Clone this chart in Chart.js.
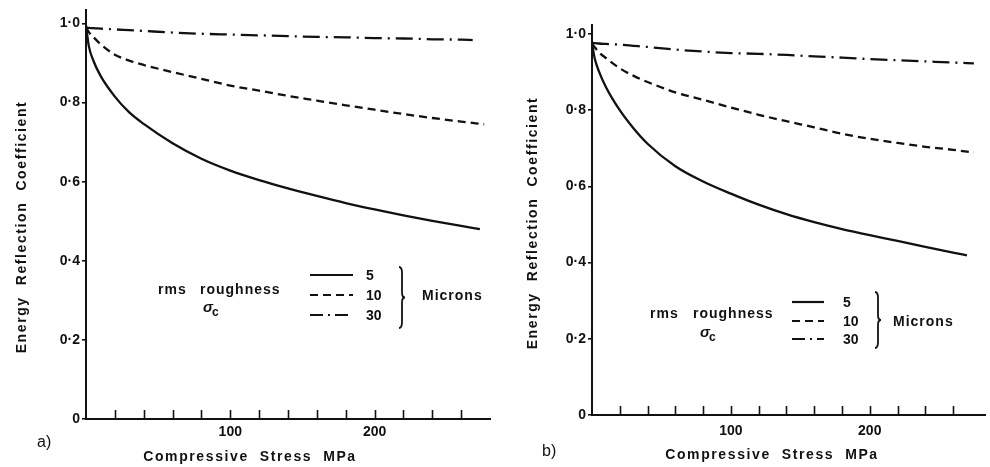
<!DOCTYPE html>
<html>
<head>
<meta charset="utf-8">
<title>Energy reflection coefficient vs compressive stress</title>
<script src="https://cdn.jsdelivr.net/npm/chart.js@4.4.1/dist/chart.umd.min.js"></script>
<style>
  body { margin: 0; background: #fff; }
  canvas { position: absolute; top: 0; }
  #chartA { left: 0; }
  #chartB { left: 495px; }
</style>
</head>
<body>
<canvas id="chartA" width="495" height="467"></canvas>
<canvas id="chartB" width="495" height="467"></canvas>
<script>
// stress (MPa) shared by all curves; every value list carries one extra
// value at the end, for the stress where that curve stops
var stress = [0, 2, 5, 10, 20, 30, 40, 60, 80, 100, 120, 140, 160, 180, 200, 220, 240, 260];

// a)
var endStressA = [273, 276, 268];
var rms5A  = [0.995, 0.942, 0.907, 0.868, 0.815, 0.775, 0.746, 0.697, 0.658, 0.628, 0.604, 0.583, 0.564, 0.546, 0.530, 0.515, 0.501, 0.488, 0.480];
var rms10A = [0.990, 0.978, 0.966, 0.948, 0.921, 0.906, 0.895, 0.877, 0.860, 0.843, 0.830, 0.817, 0.805, 0.793, 0.782, 0.771, 0.761, 0.752, 0.745];
var rms30A = [0.990, 0.989, 0.988, 0.987, 0.985, 0.983, 0.981, 0.977, 0.974, 0.972, 0.970, 0.968, 0.966, 0.965, 0.963, 0.962, 0.960, 0.959, 0.958];

// b)
var endStressB = [270, 275, 275];
var rms5B  = [0.976, 0.935, 0.902, 0.861, 0.800, 0.752, 0.712, 0.653, 0.613, 0.581, 0.552, 0.527, 0.506, 0.488, 0.472, 0.457, 0.441, 0.426, 0.419];
var rms10B = [0.975, 0.965, 0.952, 0.937, 0.910, 0.890, 0.874, 0.847, 0.827, 0.807, 0.788, 0.771, 0.755, 0.738, 0.725, 0.714, 0.704, 0.696, 0.689];
var rms30B = [0.977, 0.976, 0.975, 0.974, 0.972, 0.969, 0.966, 0.959, 0.954, 0.950, 0.948, 0.945, 0.941, 0.938, 0.934, 0.931, 0.928, 0.925, 0.923];

var roughness = ['5', '10', '30'];
var xLabelled = [100, 200];

var ink = '#111';
var fontFamily = '"Liberation Sans", Arial, sans-serif';
var textFont = 'bold 14px ' + fontFamily;
var dashes = [[], [8, 5], [17, 6, 2, 6]];
// shorter dash-dot for the key so both dashes fit either side of the dot
var keyDashes = [[], [8, 5], [13, 5, 2, 5]];

Chart.defaults.font.family = fontFamily;
Chart.defaults.font.size = 14;
Chart.defaults.font.weight = 'bold';
Chart.defaults.color = ink;

function points(values, end) {
    return values.map(function (v, i) {
        return { x: i < stress.length ? stress[i] : end, y: v };
    });
}

function brace(ctx, x, y0, y1, w) {
    var ym = (y0 + y1) / 2, xs = x + w / 2;
    ctx.beginPath();
    ctx.moveTo(x, y0);
    ctx.quadraticCurveTo(xs, y0, xs, y0 + 6);
    ctx.lineTo(xs, ym - 5);
    ctx.quadraticCurveTo(xs, ym, x + w, ym);
    ctx.quadraticCurveTo(xs, ym, xs, ym + 5);
    ctx.lineTo(xs, y1 - 6);
    ctx.quadraticCurveTo(xs, y1, x, y1);
    ctx.stroke();
}

// axis titles, inward stress ticks, panel letter and the roughness key
function panelText(p) {
    return {
        id: 'panelText',
        afterDraw: function (chart) {
            var ctx = chart.ctx, xs = chart.scales.x, area = chart.chartArea, L = p.legend;
            ctx.save();
            ctx.strokeStyle = ink;
            ctx.fillStyle = ink;

            ctx.lineWidth = 1.6;
            xs.ticks.forEach(function (t) {
                if (t.value <= 0 || t.value > 260) return;
                var px = Math.round(xs.getPixelForValue(t.value)) + 0.5;
                ctx.beginPath();
                ctx.moveTo(px, area.bottom);
                ctx.lineTo(px, area.bottom - 9);
                ctx.stroke();
            });

            ctx.font = textFont;
            ctx.letterSpacing = '1.6px';
            ctx.textBaseline = 'middle';
            ctx.textAlign = 'center';
            ctx.fillText('Compressive  Stress  MPa', p.xTitle[0], p.xTitle[1]);

            ctx.save();
            ctx.translate(p.yTitle[0], p.yTitle[1]);
            ctx.rotate(-Math.PI / 2);
            ctx.fillText('Energy  Reflection  Coefficient', 0, 0);
            ctx.restore();

            ctx.letterSpacing = '0px';
            ctx.textAlign = 'left';
            ctx.font = '16px ' + fontFamily;
            ctx.fillText(p.letter[0], p.letter[1], p.letter[2]);

            // key
            ctx.font = textFont;
            ctx.letterSpacing = '1px';
            ctx.fillText('rms', L.rms[0], L.rms[1]);
            ctx.fillText('roughness', L.rough[0], L.rough[1]);
            ctx.fillText('Microns', L.microns[0], L.microns[1]);
            ctx.letterSpacing = '0px';
            ctx.font = 'italic bold 15px ' + fontFamily;
            ctx.fillText('σ', L.sigma[0], L.sigma[1]);
            ctx.font = 'bold 12px ' + fontFamily;
            ctx.fillText('c', L.sigma[0] + 9, L.sigma[1] + 5);

            ctx.font = textFont;
            ctx.lineWidth = 2.2;
            chart.data.datasets.forEach(function (ds, i) {
                var y = L.rows[i];
                ctx.setLineDash(keyDashes[i]);
                ctx.beginPath();
                ctx.moveTo(L.line[0], y);
                ctx.lineTo(L.line[1], y);
                ctx.stroke();
                ctx.fillText(roughness[i], L.labelX, y + 1);
            });
            ctx.setLineDash([]);
            ctx.lineWidth = 1.8;
            brace(ctx, L.brace[0], L.brace[1], L.brace[2], 6);
            ctx.restore();
        }
    };
}

function makeChart(id, p) {
    var series = p.series.map(function (vals, i) {
        return {
            data: points(vals, p.ends[i]),
            borderColor: ink,
            borderWidth: 2.3,
            borderDash: dashes[i],
            pointRadius: 0,
            fill: false,
            cubicInterpolationMode: 'monotone'
        };
    });
    return new Chart(document.getElementById(id), {
        type: 'line',
        data: { datasets: series },
        options: {
            responsive: false,
            animation: false,
            layout: { padding: { top: p.top, right: 5, left: 0, bottom: 0 } },
            plugins: { legend: { display: false }, tooltip: { enabled: false } },
            scales: {
                x: {
                    type: 'linear',
                    min: 0,
                    max: p.xMax,
                    afterFit: function (s) { s.height = p.xHeight; },
                    border: { color: ink, width: 2 },
                    grid: { display: false, drawTicks: false },
                    ticks: {
                        stepSize: 20,
                        autoSkip: false,
                        maxRotation: 0,
                        includeBounds: false,
                        padding: p.xPad,
                        callback: function (v) { return xLabelled.indexOf(v) >= 0 ? String(v) : ''; }
                    }
                },
                y: {
                    type: 'linear',
                    min: 0,
                    max: p.yMax,
                    afterFit: function (s) { s.width = p.yWidth; },
                    border: { color: ink, width: 2 },
                    grid: { drawOnChartArea: false, color: ink, lineWidth: 1.6, tickLength: 4 },
                    ticks: {
                        stepSize: 0.2,
                        includeBounds: false,
                        padding: 2,
                        callback: function (v) { return v === 0 ? '0' : v.toFixed(1).replace('.', '·'); }
                    }
                }
            }
        },
        plugins: [panelText(p)]
    });
}

makeChart('chartA', {
    series: [rms5A, rms10A, rms30A],
    ends: endStressA,
    top: 10, xHeight: 48, yWidth: 86,
    yMax: 1.033, xMax: 280, xPad: 5,
    xTitle: [250, 457], yTitle: [22, 227], letter: ['a)', 37, 443],
    legend: {
        rms: [158, 290], rough: [200, 290], sigma: [203, 308],
        line: [310, 353], rows: [275, 295, 315], labelX: 366,
        brace: [399, 267, 328], microns: [422, 296]
    }
});

makeChart('chartB', {
    series: [rms5B, rms10B, rms30B],
    ends: endStressB,
    top: 25, xHeight: 52, yWidth: 97,
    yMax: 1.0236, xMax: 283, xPad: 8,
    xTitle: [277, 455], yTitle: [38, 223], letter: ['b)', 47, 452],
    legend: {
        rms: [155, 314], rough: [198, 314], sigma: [205, 333],
        line: [297, 329], rows: [302, 321, 339], labelX: 348,
        brace: [380, 292, 348], microns: [398, 322]
    }
});
</script>
</body>
</html>
